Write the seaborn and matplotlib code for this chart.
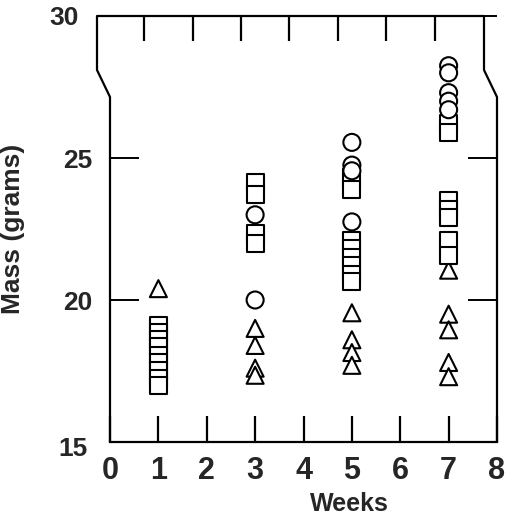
import matplotlib
matplotlib.use("Agg")
import matplotlib.pyplot as plt
import matplotlib.transforms as mtransforms
import seaborn as sns
import pandas as pd
from matplotlib.lines import Line2D

# ---- data ----
circle_weeks = [3, 3, 5, 5, 5, 5, 7, 7, 7, 7, 7]
circle_mass = [23.0, 20.0, 25.55, 24.75, 24.55, 22.75, 28.25, 28.0, 27.3, 27.0, 26.7]

square_weeks = [1, 1, 1, 1, 1, 1, 1, 1, 1,
                3, 3, 3, 3,
                5, 5, 5, 5, 5, 5, 5, 5,
                7, 7, 7, 7, 7, 7, 7]
square_mass = [19.1, 18.85, 18.6, 18.35, 18.05, 17.8, 17.5, 17.25, 17.0,
               24.15, 23.7, 22.35, 22.0,
               24.3, 23.9, 22.1, 21.8, 21.5, 21.2, 20.9, 20.65,
               26.2, 25.9, 23.5, 23.2, 22.9, 22.1, 21.55]

triangle_weeks = [1, 3, 3, 3, 3, 5, 5, 5, 5, 7, 7, 7, 7, 7]
triangle_mass = [20.4, 19.0, 18.4, 17.6, 17.35, 19.55, 18.6, 18.15, 17.7,
                 21.05, 19.5, 18.95, 17.8, 17.3]

x_ticks = [0, 1, 2, 3, 4, 5, 6, 7, 8]
y_ticks = [15, 20, 25, 30]

df = pd.concat([
    pd.DataFrame({"Weeks": triangle_weeks, "Mass": triangle_mass, "Shape": "triangle"}),
    pd.DataFrame({"Weeks": square_weeks, "Mass": square_mass, "Shape": "square"}),
    pd.DataFrame({"Weeks": circle_weeks, "Mass": circle_mass, "Shape": "circle"}),
], ignore_index=True)

sns.set_style("white")
plt.rcParams["font.family"] = ["Liberation Sans", "DejaVu Sans"]

fig = plt.figure(figsize=(5.12, 5.18), dpi=100)
ax = fig.add_axes([110 / 512, 1 - 442 / 518, 387 / 512, 426 / 518])

sns.scatterplot(data=df, x="Weeks", y="Mass", style="Shape",
                markers={"circle": "o", "square": "s", "triangle": "^"},
                color="white", edgecolor="black", linewidth=1.5, s=150,
                legend=False, ax=ax, zorder=3)

ax.set_xlim(0, 8)
ax.set_ylim(15, 30)
ax.set_xticks(x_ticks)
ax.set_yticks(y_ticks)
ax.set_xticklabels([str(t) for t in x_ticks], fontsize=22, fontweight="bold")
ax.set_yticklabels([str(t) for t in y_ticks], fontsize=19, fontweight="bold")

ax.tick_params(axis="x", direction="in", length=19, width=1.6, pad=10,
               bottom=True, top=False, color="black")
ax.tick_params(axis="y", direction="in", length=21, width=1.4, pad=13,
               left=True, right=True, color="black")

# shift the "30" label with the offset upper frame, "15" slightly down/left
for lab in ax.get_yticklabels():
    if lab.get_text() == "30":
        lab.set_transform(lab.get_transform() + mtransforms.ScaledTranslation(-13 / 100, 0, fig.dpi_scale_trans))
    elif lab.get_text() == "15":
        lab.set_transform(lab.get_transform() + mtransforms.ScaledTranslation(-4 / 100, -5 / 100, fig.dpi_scale_trans))

# top ticks shifted (broken/offset upper part of frame)
sec = ax.secondary_xaxis("top", functions=(lambda x: x + 0.29, lambda x: x - 0.29))
sec.set_xticks([1, 2, 3, 4, 5, 6, 7])
sec.set_xticklabels([])
sec.tick_params(direction="in", length=18, width=1.6, color="black")
for sp in sec.spines.values():
    sp.set_visible(False)

for side in ["left", "right", "top"]:
    ax.spines[side].set_visible(False)
ax.spines["bottom"].set_linewidth(1.6)
ax.spines["bottom"].set_color("black")

# frame with the offset break near the top
dx = 13 / 387
yb1 = (442 - 97) / 426
yb2 = (442 - 70) / 426
frame_x = [0, 0, -dx, -dx, 1 - dx, 1 - dx, 1, 1]
frame_y = [0, yb1, yb2, 1, 1, yb2, yb1, 0]
ax.add_line(Line2D(frame_x, frame_y, transform=ax.transAxes, color="black",
                   linewidth=1.6, clip_on=False, zorder=4))

ax.set_xlabel("Weeks", fontsize=18, fontweight="bold")
ax.xaxis.set_label_coords((349 - 110) / 387, (442 - 492) / 426)
ax.set_ylabel("Mass (grams)", fontsize=19, fontweight="bold")
ax.yaxis.set_label_coords((25 - 110) / 387, 0.5)

fig.savefig("out.png", dpi=100)
